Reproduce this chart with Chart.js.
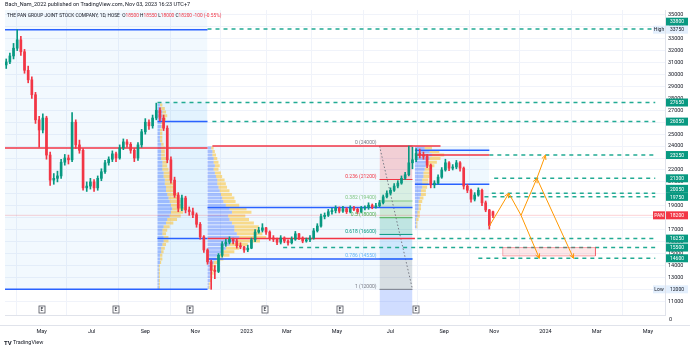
<!DOCTYPE html>
<html>
<head>
<meta charset="utf-8">
<title>PAN 1D</title>
<script src="https://cdn.jsdelivr.net/npm/chart.js@4.4.1/dist/chart.umd.min.js"></script>
<style>
  html, body { margin: 0; padding: 0; background: #ffffff; }
  canvas { display: block; }
</style>
</head>
<body>
<canvas id="chart" width="690" height="350"></canvas>
<script>
// Candles, one every 3 sessions starting at session 1
const firstSession = 1;
const sessionStep = 3;
const opens = [30800,31050,31550,32200,32900,31900,30350,29550,28300,26200,
  25350,26350,23250,21150,21300,21500,22650,23000,22850,26000,
  24100,23650,20500,20650,21000,20500,21300,21850,22600,22900,
  23350,23000,23850,24350,24150,23650,23000,24100,25200,26000,
  25700,26350,27000,26350,25500,22850,21150,19900,18800,19650,
  18650,18500,18250,17450,16400,15300,14300,13600,13500,14850,
  15800,15950,16200,16050,15650,15550,15300,15450,16150,16800,
  16950,17150,16800,16300,16200,15950,16300,16050,15900,16200,
  16650,16300,16050,16150,16300,16900,17300,18100,18200,18500,
  18600,18800,18550,18750,18500,18800,18700,18500,18800,18850,
  19050,18900,19000,19250,19750,20050,20300,20650,20900,21300,
  21600,22600,22850,23400,23250,23150,22400,20750,20900,21400,
  22000,22600,22150,22250,22600,22150,20650,20300,19550,19900,
  20300,19250,18650,18500];
const highs = [31300,31800,32600,33750,33200,32100,30700,29800,28500,26500,
  26700,26500,23500,21700,21900,22900,23300,23250,26800,26200,
  24500,23800,21000,21300,21200,21500,22100,22800,23100,23600,
  23500,24100,24600,24550,24300,23800,24300,25400,26300,26200,
  26600,27600,27200,26600,25700,23100,21400,20100,19900,19800,
  18900,18800,18400,17600,16500,15400,14450,14000,15000,16000,
  16200,16400,16300,16200,15900,15600,15700,16300,17000,17200,
  17500,17200,16900,16500,16300,16500,16400,16150,16400,16850,
  16700,16400,16300,16500,17100,17500,18300,18400,18700,18800,
  19000,18900,18950,18850,19000,18950,18800,18950,19000,19250,
  19150,19200,19450,19900,20250,20500,20850,21100,21500,21800,
  24000,23900,23800,23750,23500,23300,22500,21100,21600,22200,
  22900,22700,22450,22800,22700,22250,20800,20400,20100,20500,
  20400,19400,18700,18550];
const lows = [30500,30900,31300,32000,31600,30100,29300,28000,25900,23900,
  25100,22900,20700,20800,21000,21300,22400,22500,22700,23800,
  23400,20300,20200,20400,20200,20300,21100,21700,22400,22700,
  22700,22900,23700,23900,23400,22700,22800,23900,25000,25400,
  25500,26200,26100,25300,22600,20900,19700,18500,18600,18400,
  18200,18000,17200,16200,15100,14100,12000,12900,13400,14700,
  15600,15800,15800,15450,15400,15100,15150,15400,16000,16700,
  16800,16600,16100,16000,15750,15800,15900,15700,15800,16100,
  16150,15900,15950,16000,16200,16800,17200,17900,18100,18300,
  18400,18400,18450,18350,18400,18600,18350,18400,18650,18700,
  18750,18800,18900,19150,19650,19900,20200,20500,20800,21200,
  21500,22100,22700,23000,22900,22200,20500,20500,20800,21300,
  21900,21950,22000,22100,21900,20400,20100,19300,19400,19800,
  19000,18500,17050,18000];
const closes = [31050,31550,32200,32900,31900,30350,29550,28300,26200,25350,
  26350,23250,21150,21300,21500,22650,23000,22850,26000,24100,
  23650,20500,20650,21000,20500,21300,21850,22600,22900,23350,
  23000,23850,24350,24150,23650,23000,24100,25200,26000,25700,
  26350,27000,26350,25500,22850,21150,19900,18800,19650,18650,
  18500,18250,17450,16400,15300,14300,13600,13500,14850,15800,
  15950,16200,16050,15650,15550,15300,15450,16150,16800,16950,
  17150,16800,16300,16200,15950,16300,16050,15900,16200,16650,
  16300,16050,16150,16300,16900,17300,18100,18200,18500,18600,
  18800,18550,18750,18500,18800,18700,18500,18800,18850,19050,
  18900,19000,19250,19750,20050,20300,20650,20900,21300,21600,
  22600,22850,23400,23250,23150,22400,20750,20900,21400,22000,
  22600,22150,22250,22600,22150,20650,20300,19550,19900,20300,
  19250,18650,17350,18200];

// Time axis: session index of each labelled month
const monthSessions = [30, 71, 115, 156, 198, 231, 272, 316, 360, 401, 443, 485, 527];
const monthLabels = ['May', 'Jul', 'Sep', 'Nov', '2023', 'Mar', 'May', 'Jul', 'Sep', 'Nov', '2024', 'Mar', 'May'];
const priceTicks = [11000, 12000, 13000, 14000, 15000, 16000, 17000, 18000, 19000, 20000, 21000, 22000,
  23000, 24000, 25000, 26000, 27000, 28000, 29000, 30000, 31000, 32000, 33000, 34000, 35000];

// Horizontal levels: [fromSession, toSession, price]
const dashedLevels = [[166, 533, 33800], [125, 533, 27650], [170, 533, 26050], [397, 533, 23250],
  [401, 533, 21300], [399, 533, 20050], [393, 533, 19750], [338, 533, 16250], [228, 533, 15500], [388, 533, 14600]];
const blueLevels = [[0, 166, 33750], [0, 166, 12000], [125, 166, 26050], [125, 166, 16250],
  [166, 334, 18850], [166, 334, 14550], [336, 397, 23650], [336, 397, 20800]];
const redLevels = [[0, 166, 23850], [170, 357, 24000], [166, 336, 16250], [336, 397, 23250]];

// Fixed range volume profiles: [price, up volume, down volume] (in sessions of width)
const profileA = [[27450,2,2],[27150,3,3],[26850,4,3],[26550,4,4],[26250,4,3],[25950,3,3],[25650,3,2],
  [25350,2,2],[25050,2,2],[24750,2,2],[24450,2,2],[24150,3,2],[23850,3,3],[23550,3,3],[23250,3,3],
  [22950,3,4],[22650,4,4],[22350,4,4],[22050,4,5],[21750,5,5],[21450,5,6],[21150,6,6],[20850,6,7],
  [20550,7,7],[20250,7,8],[19950,8,8],[19650,9,9],[19350,10,9],[19050,11,10],[18750,12,10],
  [18450,11,10],[18150,10,9],[17850,8,8],[17550,7,6],[17250,5,5],[16950,4,4],[16650,4,3],
  [16350,5,4],[16050,5,4],[15750,4,3],[15450,3,3],[15150,3,2],[14850,2,2],[14550,2,2],[14250,2,1],
  [13950,1,1],[13650,1,1],[13350,1,1],[13050,1,1],[12750,1,1],[12450,1,1],[12150,1,1]];
const profileB = [[23850,3,2],[23550,4,2],[23250,4,3],[22950,5,3],[22650,5,4],[22350,6,4],[22050,5,4],
  [21750,6,5],[21450,7,5],[21150,8,6],[20850,8,7],[20550,9,7],[20250,10,8],[19950,11,9],[19650,12,10],
  [19350,13,10],[19050,15,11],[18750,18,14],[18450,20,16],[18150,17,14],[17850,18,16],[17550,20,18],
  [17250,22,20],[16950,22,20],[16650,24,21],[16350,26,22],[16050,23,20],[15750,18,15],[15450,15,11],
  [15150,13,9],[14850,10,8],[14550,7,6],[14250,5,4],[13950,4,3],[13650,3,3],[13350,3,2],[13050,2,2],
  [12750,2,1],[12450,1,1],[12150,1,1]];
const profileC = [[23850,8,6],[23550,12,8],[23250,14,10],[22950,12,9],[22650,10,8],[22350,9,7],
  [22050,8,6],[21750,7,6],[21450,7,5],[21150,6,5],[20850,6,5],[20550,6,4],[20250,5,4],[19950,5,4],
  [19650,4,3],[19350,3,3],[19050,3,2],[18750,3,2],[18450,2,2],[18150,2,2],[17850,1,2],[17550,1,1],[17250,1,1]];
const profileAnchors = [125, 166, 336];

// Range boxes: [fromSession, toSession, top, bottom]
const rangeBoxes = [[0, 166, 35400, 12000], [125, 166, 27650, 12000], [166, 334, 24000, 12000], [336, 397, 24000, 16950]];
const targetBox = [408, 484, 15500, 14800];

// Fibonacci retracement
const fibSessions = [307, 334];
const fibRatios = ['0', '0.236', '0.382', '0.5', '0.618', '0.786', '1'];
const fibPrices = [24000, 21200, 19400, 18000, 16600, 14550, 12000];
const fibTrend = [[307, 24000], [334, 12000]];

// Projected path: [[session, price], [session, price], arrow head?]
const pathLegs = [
  [[397, 17300], [413, 20050], true],
  [[413, 20050], [423, 18200], false],
  [[423, 18200], [436, 21300], true],
  [[436, 21300], [443, 23250], true],
  [[423, 18200], [438, 14600], true],
  [[436, 21300], [466, 14600], true]
];

const earningsSessions = [30, 91, 152, 213, 275, 337];
const lastPrice = 18200;
const levelTags = [33800, 27650, 26050, 23250, 21300, 20050, 19750, 16250, 15500, 14600];
const highPrice = 33750;
const lowPrice = 12000;

const Y_MIN = 9850, Y_MAX = 35400;
const X_MIN = 0, X_MAX = 541;
const upColor = '#089981', downColor = '#f23645';
const textColor = '#131722';
const FONT = 'Roboto';

const datasets = [];

function segments(list) {
  const pts = [];
  list.forEach(l => { pts.push({ x: l[0], y: l[2] }, { x: l[1], y: l[2] }, { x: l[1], y: null }); });
  return pts;
}

function addLine(pts, color, width, dash, order, extra) {
  datasets.push(Object.assign({
    type: 'line', data: pts, borderColor: color, borderWidth: width, borderDash: dash || [],
    borderCapStyle: 'butt', pointRadius: 0, fill: false, tension: 0, spanGaps: false, order: order
  }, extra || {}));
}

function addBox(b, color, order) {
  datasets.push({
    type: 'line', data: [{ x: b[0], y: b[2] }, { x: b[1], y: b[2] }],
    borderColor: 'transparent', borderWidth: 0, pointRadius: 0,
    backgroundColor: color, fill: { value: b[3] }, order: order
  });
}

// background ranges
const boxColors = ['rgba(33,150,243,0.06)', 'rgba(33,150,243,0.07)', 'rgba(33,150,243,0.06)', 'rgba(33,150,243,0.07)'];
rangeBoxes.forEach((b, i) => addBox(b, boxColors[i], 30 - i));

// fibonacci zones
const fibZoneColors = ['rgba(242,54,69,0.22)', 'rgba(129,199,132,0.22)', 'rgba(76,175,80,0.22)',
  'rgba(8,153,129,0.22)', 'rgba(100,181,246,0.25)', 'rgba(120,123,134,0.22)', 'rgba(41,98,255,0.22)'];
fibPrices.forEach((p, i) => {
  const bottom = i < fibPrices.length - 1 ? fibPrices[i + 1] : Y_MIN;
  addBox([fibSessions[0], fibSessions[1], p, bottom], fibZoneColors[i], 25);
});
const fibLineColors = ['#787b86', '#f23645', '#81c784', '#4caf50', '#089981', '#64b5f6', '#787b86'];
fibPrices.forEach((p, i) => addLine(segments([[fibSessions[0], fibSessions[1], p]]), fibLineColors[i], 1, [], 24));
addLine(fibTrend.map(t => ({ x: t[0], y: t[1] })), '#787b86', 1, [1.5, 2], 23);

// volume profiles, up part then down part
[profileA, profileB, profileC].forEach((prof, k) => {
  const a = profileAnchors[k];
  addLine(segments(prof.map(r => [a, a + r[1], r[0]])), 'rgba(41,98,255,0.38)', 3, [], 22);
  addLine(segments(prof.map(r => [a + r[1], a + r[1] + r[2], r[0]])), 'rgba(251,192,45,0.55)', 3, [], 22);
});

// last price line
addLine(segments([[X_MIN, X_MAX, lastPrice]]), 'rgba(242,54,69,0.22)', 1, [], 21);

// levels
addLine(segments(dashedLevels), '#22ab94', 1.5, [4, 4], 20);
addLine(segments(blueLevels), '#2962ff', 1.5, [], 19);
addLine(segments(redLevels), '#f23645', 1.5, [], 19);

// target zone
addBox(targetBox, 'rgba(242,54,69,0.12)', 18);
addLine([{ x: targetBox[0], y: targetBox[2] }, { x: targetBox[1], y: targetBox[2] }, { x: targetBox[1], y: targetBox[3] },
  { x: targetBox[0], y: targetBox[3] }, { x: targetBox[0], y: targetBox[2] }], 'rgba(242,54,69,0.4)', 1, [], 18);

// candles
const sessions = opens.map((o, i) => firstSession + sessionStep * i);
const candleColors = opens.map((o, i) => closes[i] >= o ? upColor : downColor);
datasets.push({ type: 'bar', data: sessions.map((s, i) => ({ x: s, y: [lows[i], highs[i]] })),
  backgroundColor: candleColors, barThickness: 1, grouped: false, order: 11 });
datasets.push({ type: 'bar', data: sessions.map((s, i) => ({ x: s, y: [opens[i], closes[i]] })),
  backgroundColor: candleColors, barThickness: 2, grouped: false, minBarLength: 1, order: 10 });

// path arrows
pathLegs.forEach(l => addLine([{ x: l[0][0], y: l[0][1] }, { x: l[1][0], y: l[1][1] }], '#ff9800', 1, [], 5, { arrowHead: l[2] }));

function tag(c, x, y, w, text, bg, fg) {
  c.fillStyle = bg;
  c.fillRect(x, y - 4, w, 8);
  c.fillStyle = fg;
  c.textAlign = 'center';
  c.fillText(text, x + w / 2, y + 0.5);
}

const overlay = {
  id: 'overlay',
  afterDatasetsDraw(chart) {
    const c = chart.ctx;
    chart.data.datasets.forEach((ds, i) => {
      if (!ds.arrowHead) return;
      const pts = chart.getDatasetMeta(i).data;
      const a = pts[pts.length - 2], b = pts[pts.length - 1];
      const ang = Math.atan2(b.y - a.y, b.x - a.x);
      c.save();
      c.strokeStyle = ds.borderColor;
      c.lineWidth = 1;
      c.beginPath();
      [-0.45, 0.45].forEach(d => {
        c.moveTo(b.x, b.y);
        c.lineTo(b.x - 5 * Math.cos(ang + d), b.y - 5 * Math.sin(ang + d));
      });
      c.stroke();
      c.restore();
    });
  },
  afterDraw(chart) {
    const c = chart.ctx;
    const xs = chart.scales.x, ys = chart.scales.y;
    const area = chart.chartArea;
    c.save();
    c.textBaseline = 'middle';

    // header
    c.font = '5.5px ' + FONT;
    c.fillStyle = textColor;
    c.textAlign = 'left';
    c.fillText('Bach_Nam_2022 published on TradingView.com, Nov 03, 2023 16:23 UTC+7', 5, 5);
    const n = closes.length - 1;
    const parts = [['THE PAN GROUP JOINT STOCK COMPANY, 1D, HOSE  ', textColor], ['O', textColor], [opens[n] + ' ', downColor],
      ['H', textColor], [highs[n] + ' ', downColor], ['L', textColor], [lows[n] + ' ', downColor],
      ['C', textColor], [closes[n] + ' ', downColor], ['-100 (-0.55%)', downColor]];
    c.font = '4.8px ' + FONT;
    let tx = 7;
    parts.forEach(p => { c.fillStyle = p[1]; c.fillText(p[0], tx, 16); tx += c.measureText(p[0]).width; });

    // fibonacci labels
    c.font = '5px ' + FONT;
    c.textAlign = 'right';
    fibPrices.forEach((p, i) => {
      c.fillStyle = fibLineColors[i];
      c.fillText(fibRatios[i] + ' (' + p + ')', xs.getPixelForValue(fibSessions[0]) - 3, ys.getPixelForValue(p) - 3);
    });

    // earnings markers
    c.textAlign = 'center';
    earningsSessions.forEach(s => {
      const px = Math.round(xs.getPixelForValue(s));
      c.fillStyle = '#ffffff';
      c.fillRect(px - 3, area.bottom - 9, 6, 7);
      c.strokeStyle = '#50535e';
      c.lineWidth = 0.8;
      c.strokeRect(px - 3, area.bottom - 9, 6, 7);
      c.fillStyle = textColor;
      c.fillText('E', px, area.bottom - 5.3);
    });

    // volume pane
    c.strokeStyle = '#e0e3eb';
    c.lineWidth = 1;
    c.beginPath();
    c.moveTo(0, area.bottom + 10.5);
    c.lineTo(690, area.bottom + 10.5);
    c.stroke();
    c.fillStyle = textColor;
    c.textAlign = 'left';
    c.font = '5.5px ' + FONT;
    c.fillText('0', area.right + 4, area.bottom + 5);

    // price tags on the axis
    const tags = levelTags.map(p => ({ text: String(p), y: ys.getPixelForValue(p), bg: '#089981', fg: '#ffffff' }));
    tags.push({ text: String(highPrice), y: ys.getPixelForValue(highPrice), bg: '#e3effd', fg: textColor, note: 'High' });
    tags.push({ text: String(lowPrice), y: ys.getPixelForValue(lowPrice), bg: '#e3effd', fg: textColor, note: 'Low' });
    tags.push({ text: String(lastPrice), y: ys.getPixelForValue(lastPrice), bg: downColor, fg: '#ffffff', note: 'PAN' });
    tags.sort((a, b) => a.y - b.y);
    for (let i = tags.length - 1; i > 0; i--) {
      if (tags[i].y - tags[i - 1].y < 8) tags[i - 1].y = tags[i].y - 8;
    }
    c.font = '5px ' + FONT;
    tags.forEach(t => {
      tag(c, area.right + 1, t.y, 22, t.text, t.bg, t.fg);
      if (t.note) tag(c, area.right - 12, t.y, 12, t.note, t.bg, t.fg);
    });

    // footer
    c.font = 'bold 6px ' + FONT;
    c.textAlign = 'left';
    c.fillStyle = textColor;
    c.fillText('TV', 4, 343);
    c.font = '5.5px ' + FONT;
    c.fillText('TradingView', 13, 343);
    c.restore();
  }
};

new Chart(document.getElementById('chart'), {
  type: 'line',
  data: { datasets: datasets },
  options: {
    responsive: false,
    animation: false,
    devicePixelRatio: 1,
    layout: { padding: { left: 5, top: 10, right: 0, bottom: 0 } },
    plugins: { legend: { display: false }, tooltip: { enabled: false }, filler: { propagate: false } },
    scales: {
      x: {
        type: 'linear', min: X_MIN, max: X_MAX, offset: false,
        afterBuildTicks: ax => { ax.ticks = monthSessions.map(v => ({ value: v })); },
        afterFit: ax => { ax.height = 35; },
        grid: { color: '#f0f3fa', drawTicks: false },
        border: { color: '#e0e3eb' },
        ticks: { autoSkip: false, maxRotation: 0, padding: 13, color: textColor,
          font: { family: FONT, size: 5.5 }, callback: (v, i) => monthLabels[i] }
      },
      y: {
        type: 'linear', position: 'right', min: Y_MIN, max: Y_MAX,
        afterBuildTicks: ax => { ax.ticks = priceTicks.map(v => ({ value: v })); },
        afterFit: ax => { ax.width = 25; },
        grid: { color: '#f0f3fa', drawTicks: false },
        border: { color: '#e0e3eb' },
        ticks: { padding: 3, color: textColor, font: { family: FONT, size: 5.5 }, callback: v => String(v) }
      }
    }
  },
  plugins: [overlay]
});
</script>
</body>
</html>
